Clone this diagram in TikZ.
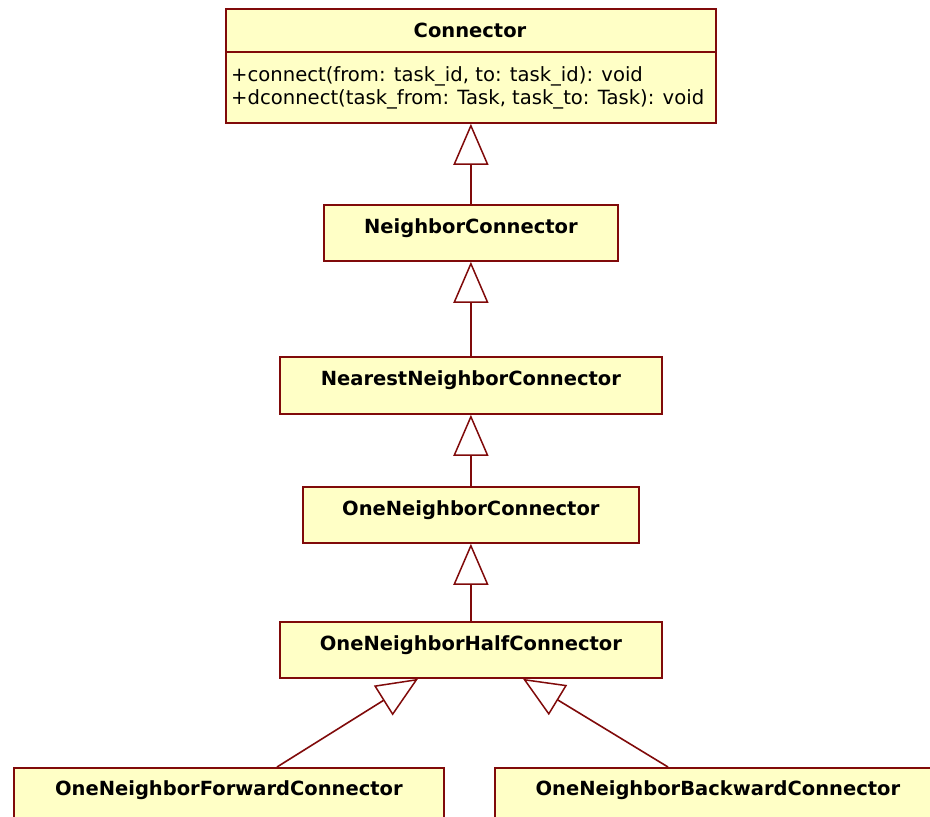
\documentclass[tikz,border=0pt]{standalone}
\usepackage{fontspec}
\usetikzlibrary{arrows.meta,calc}
\newfontfamily\dvreg{DejaVu Sans}
\newfontfamily\dvbold{DejaVu Sans Bold}
\definecolor{bord}{RGB}{128,10,10}
\definecolor{fillc}{RGB}{255,255,198}
\tikzset{
  cls/.style={draw=bord, fill=fillc, line width=1.8pt, inner sep=0pt,
    text height=29pt, text depth=27pt, anchor=north west,
    font=\dvbold\fontsize{19.5}{23}\selectfont},
  attr/.style={inner sep=0pt, anchor=base west, font=\dvreg\fontsize{19.6}{23}\selectfont},
  gen/.style={draw=bord, line width=1.6pt, -{Triangle[open, length=41pt, width=35pt, line width=1.5pt]}}
}
\begin{document}
\begin{tikzpicture}[x=1pt, y=-1pt]
\useasboundingbox (0,0) rectangle (930,817);
\clip (0,0) rectangle (930,817);
\fill[white] (0,0) rectangle (930,817);
% Connector class
\node[draw=bord, fill=fillc, line width=1.8pt, inner sep=0pt, anchor=north west,
      minimum width=490pt, minimum height=114pt] (conn) at (225,8) {};
\draw[bord, line width=1.8pt] ($(conn.north west)+(0,44)$) coordinate (dl) -- ($(conn.north east)+(0,44)$) coordinate (dr);
\node[inner sep=0pt, anchor=base, font=\dvbold\fontsize{19.5}{23}\selectfont] (connt) at (470,37) {Connector};
\node[attr] (op1) at (231,81) {+connect(from: task\_id, to: task\_id): void};
\node[attr] (op2) at (231,104) {+dconnect(task\_from: Task, task\_to: Task): void};
% other classes
\node[cls, minimum width=294pt] (nb) at (323,204) {NeighborConnector};
\node[cls, minimum width=382pt, text depth=28pt] (nn) at (279,356) {NearestNeighborConnector};
\node[cls, minimum width=336pt] (one) at (302,486) {OneNeighborConnector};
\node[cls, minimum width=382pt] (half) at (279,621) {OneNeighborHalfConnector};
\node[cls, minimum width=430pt, text height=28pt, text depth=40pt] (fwd) at (13,767) {OneNeighborForwardConnector};
\node[cls, minimum width=446pt, text height=28pt, text depth=40pt] (bwd) at (494,767) {OneNeighborBackwardConnector};
% generalizations
\draw[gen] (nb.north) -- (nb.north |- conn.south);
\draw[gen] (nn.north) -- (nn.north |- nb.south);
\draw[gen] (one.north) -- (one.north |- nn.south);
\draw[gen] (half.north) -- (half.north |- one.south);
\coordinate (hl) at ($(half.south west)+(139,0)$);
\coordinate (hr) at ($(half.south west)+(244,0)$);
\coordinate (fl) at ($(fwd.north west)+(264,0)$);
\coordinate (br) at ($(bwd.north west)+(174,0)$);
\draw[gen] (fl) -- (hl);
\draw[gen] (br) -- (hr);
\end{tikzpicture}
\end{document}
